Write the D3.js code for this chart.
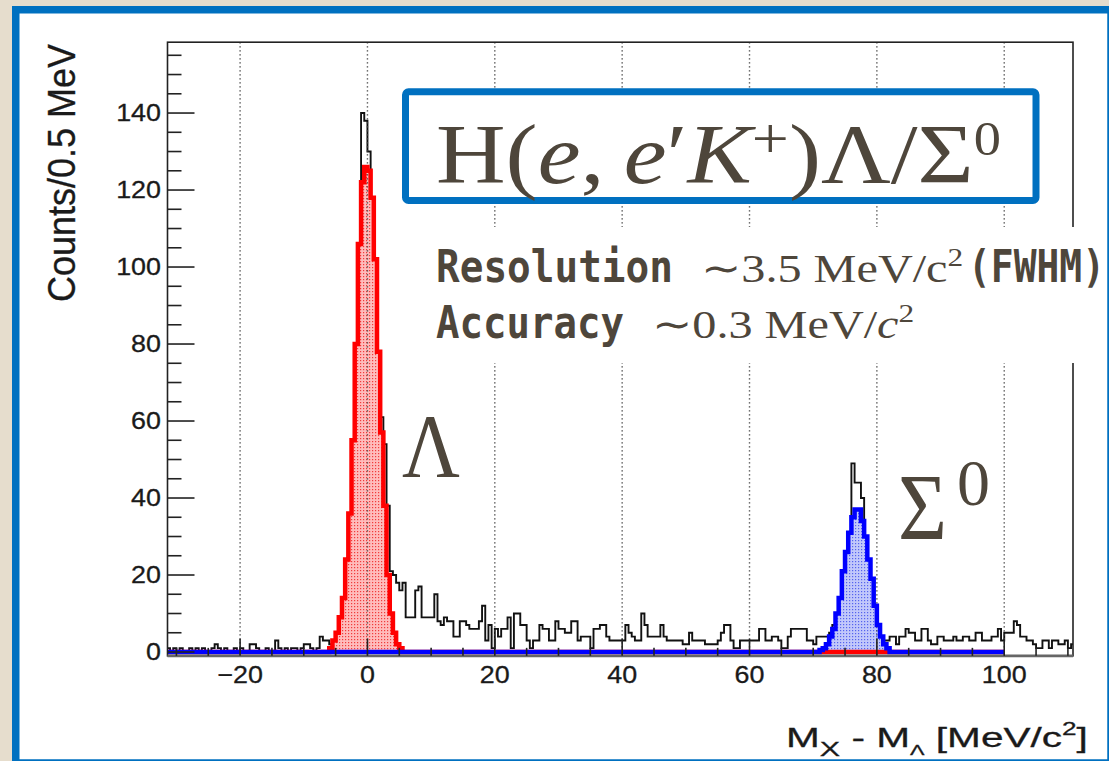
<!DOCTYPE html>
<html><head><meta charset="utf-8">
<script src="https://cdn.jsdelivr.net/npm/d3@7"></script>
<style>html,body{margin:0;padding:0;background:#e6ddcd;overflow:hidden}</style>
</head><body>
<svg id="c" width="1109" height="761"></svg>
<script>
// ---------------- data ----------------
const binStart = -31.5;          // MeV, low edge of first bin
const binWidth = 0.5;            // MeV per bin
// measured counts per 0.5 MeV bin, from -31.5 to 111 MeV
const counts = [
  1,0,1,0,1,0,0,1,0,1, 0,1,0,0,1,2,1,0,1,0,          // -31.5 .. -22.0
  0,1,0,1,0,0,2,2,1,0, 0,1,0,0,3,1,0,1,0,1,          // -21.5 .. -12.0
  1,0,1,2,2,1,0,1,4,3, 3,2,3,3,4,7,12,20,34,56,      // -11.5 .. -2.0
  96,140,138,130,116,84,68,61,54,38, 21,20,18,16,18,9,9,9,16,17, // -1.5 .. 8.0
  9,9,9,9,15,8,7,9,8,8, 4,4,8,8,7,6,6,6,8,12,        // 8.5 .. 18.0
  3,7,1,6,4,6,6,9,1,10, 10,7,7,3,1,3,3,7,6,6,        // 18.5 .. 28.0
  3,3,8,6,6,5,5,8,8,3, 4,4,4,1,6,6,7,7,4,3,          // 28.5 .. 38.0
  3,3,3,3,7,5,4,3,3,10, 7,4,4,4,4,7,4,3,3,3,         // 38.5 .. 48.0
  3,3,2,2,5,3,3,3,3,2, 2,2,2,3,5,7,7,3,1,1,          // 48.5 .. 58.0
  3,3,3,3,3,3,6,6,3,3, 4,4,3,1,1,4,6,6,6,6,          // 58.5 .. 68.0
  6,3,3,2,4,4,4,4,5,7, 10,14,19,25,31,49,44,44,40,30, // 68.5 .. 78.0
  22,12,8,4,3,3,3,4,4,2, 4,4,6,5,5,3,3,6,6,3,        // 78.5 .. 88.0
  2,2,4,4,3,3,3,4,3,3, 4,4,3,3,5,5,3,3,3,4,          // 88.5 .. 98.0
  4,6,3,5,5,5,8,7,4,4, 3,3,2,1,1,3,3,1,3,3,          // 98.5 .. 108.0
  2,2,3,1,2                                          // 108.5 .. 110.5
];
// Lambda component (red), bins from -6.0 MeV
const lambdaStart = -6.0;
const lambdaFit = [1,3,5,9,14,24,36,55,80,106,122,126,125,118,102,78,57,38,20,10,5,2,1];
// Sigma0 component (blue), bins from 71.0 MeV
const sigmaStart = 71.0;
const sigmaFit = [0.5,1,2,4,6,10,14,21,26,31,35,37,37,34,30,24,19,12,7,4,2,1];
const fitEnd = 100;

const xMajor = [-20,0,20,40,60,80,100];
const xMinor = d3.range(-30, 111, 5);
const yMajor = [0,20,40,60,80,100,120,140];
const yMinor = d3.range(0, 156, 5);
const xLabels = ["\u221220","0","20","40","60","80","100"];

// ---------------- layout ----------------
const svg = d3.select("#c");
const P = {left:167.5, right:1073, top:42.2, bottom:655.85};
const x = d3.scaleLinear().domain([-31.4, 110.8]).range([P.left, P.right]);
const y = d3.scaleLinear().domain([-1, 158.4]).range([P.bottom, P.top]);
const INK = "#4e463b";

svg.append("rect").attr("x",0).attr("y",0).attr("width",1109).attr("height",761).attr("fill","#e6ddcd");
svg.append("rect").attr("x",15.75).attr("y",9.75).attr("width",1095.25).attr("height",753.25).attr("fill","#ffffff");

const defs = svg.append("defs");
defs.append("clipPath").attr("id","plotclip").append("rect")
  .attr("x",P.left).attr("y",P.top).attr("width",P.right-P.left).attr("height",P.bottom-P.top);
function dotPattern(id, bg, dot){
  const p = defs.append("pattern").attr("id",id).attr("width",3).attr("height",3).attr("patternUnits","userSpaceOnUse");
  p.append("rect").attr("width",3).attr("height",3).attr("fill",bg);
  p.append("rect").attr("width",1.2).attr("height",1.2).attr("fill",dot);
}
dotPattern("pRed","#ffbcbc","#f03c3c");
dotPattern("pBlue","#c2c8fb","#5563ee");

const g = svg.append("g").attr("clip-path","url(#plotclip)");

const line = d3.line().x(d=>x(d[0])).y(d=>y(d[1])).curve(d3.curveStepAfter);
const area = d3.area().x(d=>x(d[0])).y0(y(0)).y1(d=>y(d[1])).curve(d3.curveStepAfter);
function histPoints(start, vals){
  const pts = vals.map((v,i)=>[start + i*binWidth, v]);
  pts.push([start + vals.length*binWidth, vals[vals.length-1]]);
  return pts;
}
function fitPoints(start, vals){
  const pts = [[x.domain()[0], 0]];
  vals.forEach((v,i)=>pts.push([start + i*binWidth, v]));
  pts.push([start + vals.length*binWidth, 0]);
  pts.push([fitEnd, 0]);
  return pts;
}

// data histogram
g.append("path").attr("d", line(histPoints(binStart, counts)))
  .attr("fill","none").attr("stroke","#111").attr("stroke-width",1.9);

// fills
const redPts = fitPoints(lambdaStart, lambdaFit);
const bluePts = fitPoints(sigmaStart, sigmaFit);
g.append("path").attr("d", area(redPts)).attr("fill","url(#pRed)");
g.append("path").attr("d", area(bluePts)).attr("fill","url(#pBlue)");

// grid
g.selectAll(".grid").data(xMajor).enter().append("line")
  .attr("x1",d=>x(d)).attr("x2",d=>x(d)).attr("y1",P.top).attr("y2",P.bottom)
  .attr("stroke","#444").attr("stroke-width",1.4).attr("stroke-dasharray","1.4,2.6");

// fit outlines
g.append("path").attr("d", line(redPts)).attr("fill","none").attr("stroke","#ff0000").attr("stroke-width",4.5);
g.append("path").attr("d", line(bluePts)).attr("fill","none").attr("stroke","#0000ff").attr("stroke-width",4.5);

// frame
svg.append("rect").attr("x",P.left).attr("y",P.top).attr("width",P.right-P.left).attr("height",P.bottom-P.top)
  .attr("fill","none").attr("stroke","#222").attr("stroke-width",1.6);
svg.append("line").attr("x1",P.left).attr("x2",P.right).attr("y1",P.bottom).attr("y2",P.bottom)
  .attr("stroke","#666").attr("stroke-width",2.6);

// ticks
const ax = svg.append("g").attr("stroke","#222").attr("stroke-width",1.6);
ax.selectAll(".ymin").data(yMinor).enter().append("line")
  .attr("x1",P.left).attr("x2",d=>P.left + (d%20===0?27:14)).attr("y1",d=>y(d)).attr("y2",d=>y(d));
ax.selectAll(".xmin").data(xMinor).enter().append("line")
  .attr("x1",d=>x(d)).attr("x2",d=>x(d)).attr("y1",P.bottom).attr("y2",d=>P.bottom - (d%20===0?17:8));

function stretchAt(sel, sx){
  sel.each(function(){
    const t = d3.select(this); const cx = +t.attr("x");
    t.attr("transform",`translate(${cx},0) scale(${sx},1) translate(${-cx},0)`);
  });
}
const yl = svg.selectAll(".ylab").data(yMajor).enter().append("text")
  .attr("x",161).attr("y",d=>y(d)).attr("dy","0.35em").attr("text-anchor","end")
  .attr("font-family","Liberation Sans, Arial, sans-serif").attr("font-size",24).attr("fill","#1a1a1a")
  .attr("stroke","#1a1a1a").attr("stroke-width",0.3)
  .text(d=>d);
stretchAt(yl, 1.12);
const xl = svg.selectAll(".xlab").data(xMajor).enter().append("text")
  .attr("x",d=>x(d)).attr("y",683).attr("text-anchor","middle")
  .attr("font-family","Liberation Sans, Arial, sans-serif").attr("font-size",24).attr("fill","#1a1a1a")
  .attr("stroke","#1a1a1a").attr("stroke-width",0.3)
  .text((d,i)=>xLabels[i]);
stretchAt(xl, 1.12);

svg.append("text").attr("transform","translate(75,44) scale(1.1,1) rotate(-90)")
  .attr("text-anchor","end").attr("font-family","Liberation Sans, Arial, sans-serif")
  .attr("font-size",36).attr("fill","#1a1a1a").attr("stroke","#1a1a1a").attr("stroke-width",0.3)
  .text("Counts/0.5 MeV");

function fitX(sel, x0, w){
  const b = sel.node().getBBox(); const s = w / b.width;
  sel.attr("transform",`translate(${x0 - b.x*s},0) scale(${s},1)`);
}
const xt = svg.append("text").attr("x",0).attr("y",747)
  .attr("font-family","Liberation Sans, Arial, sans-serif").attr("font-size",28).attr("fill","#1a1a1a")
  .attr("stroke","#1a1a1a").attr("stroke-width",0.3);
xt.append("tspan").text("M");
xt.append("tspan").attr("font-size",21).attr("dy",9).text("X");
xt.append("tspan").attr("dy",-9).text(" - M");
xt.append("tspan").attr("font-size",15).attr("dy",8).text("\u039B");
xt.append("tspan").attr("dy",-8).text(" [MeV/c");
xt.append("tspan").attr("font-size",18).attr("dy",-12).text("2");
xt.append("tspan").attr("dy",12).text("]");
fitX(xt, 786, 302);

// white area behind the resolution text
svg.append("rect").attr("x",425).attr("y",227).attr("width",681).attr("height",136).attr("fill","#ffffff");

// title box
svg.append("rect").attr("x",405.5).attr("y",91.8).attr("width",630.5).attr("height",108.7).attr("rx",3)
  .attr("fill","#ffffff").attr("stroke","#0070c0").attr("stroke-width",7);
const SERIF = "Liberation Serif, Times New Roman, serif";
const tt = svg.append("text").attr("x",0).attr("y",183).attr("font-family",SERIF).attr("font-size",85).attr("fill",INK);
tt.append("tspan").text("H(");
tt.append("tspan").attr("font-style","italic").text("e");
tt.append("tspan").text(",\u2009");
tt.append("tspan").attr("font-style","italic").text("e");
tt.append("tspan").text("\u2032");
tt.append("tspan").attr("font-style","italic").text("K");
tt.append("tspan").attr("font-size",58).attr("dy",-25).text("+");
tt.append("tspan").attr("dy",25).text(")\u039B/\u03A3");
tt.append("tspan").attr("font-size",48).attr("dy",-28).text("0");
fitX(tt, 436, 565);

// resolution / accuracy lines
const MONO = "DejaVu Sans Mono, monospace";
function monoText(str, base, x0, w){
  const t = svg.append("text").attr("x",0).attr("y",base).attr("font-family",MONO)
    .attr("font-weight","bold").attr("font-size",45).attr("fill",INK).text(str);
  fitX(t, x0, w);
}
monoText("Resolution", 282, 436, 237);
monoText("(FWHM)", 282, 968, 137);
monoText("Accuracy", 338, 436, 188);
const r1 = svg.append("text").attr("x",0).attr("y",282).attr("font-family",SERIF).attr("font-size",40).attr("fill",INK);
r1.append("tspan").text("\u223C3.5 MeV/c");
r1.append("tspan").attr("font-size",26).attr("dy",-16).text("2");
fitX(r1, 701, 263);
const r2 = svg.append("text").attr("x",0).attr("y",338).attr("font-family",SERIF).attr("font-size",40).attr("fill",INK);
r2.append("tspan").text("\u223C0.3 MeV/");
r2.append("tspan").attr("font-style","italic").text("c");
r2.append("tspan").attr("font-size",26).attr("dy",-16).text("2");
fitX(r2, 652, 263);

// peak labels
const lam = svg.append("text").attr("x",0).attr("y",477).attr("font-family",SERIF).attr("font-size",92).attr("fill",INK).text("\u039B");
fitX(lam, 402, 58);
const sig = svg.append("text").attr("x",0).attr("y",540).attr("font-family",SERIF).attr("font-size",96).attr("fill",INK).text("\u03A3");
fitX(sig, 898, 49);
const sig0 = svg.append("text").attr("x",0).attr("y",505).attr("font-family",SERIF).attr("font-size",66).attr("fill",INK).text("0");
fitX(sig0, 957, 33);

// outer blue frame
svg.append("rect").attr("x",15.75).attr("y",9.75).attr("width",1095.25).attr("height",753.25)
  .attr("fill","none").attr("stroke","#0070c0").attr("stroke-width",7.5);
</script>
</body></html>
